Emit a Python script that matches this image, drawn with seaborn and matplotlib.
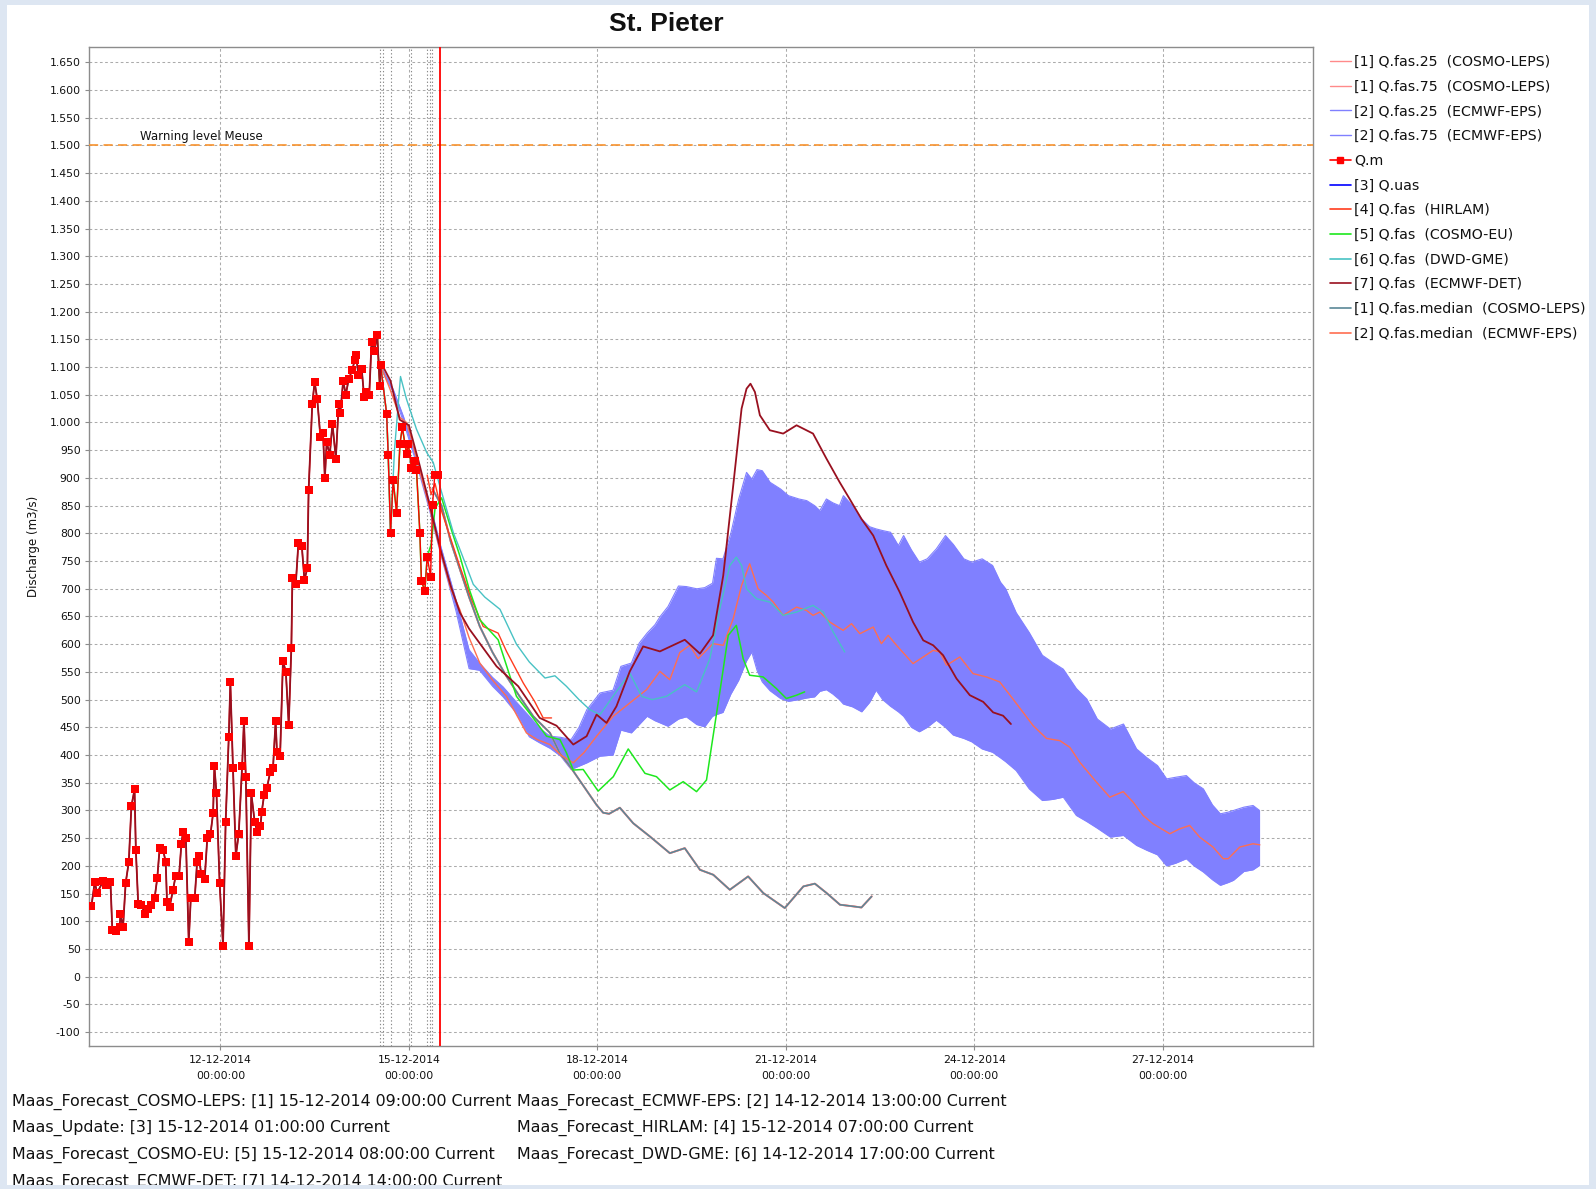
import numpy as np
import pandas as pd
import matplotlib
matplotlib.use("Agg")
import matplotlib.pyplot as plt
import matplotlib.dates as mdates
from matplotlib.lines import Line2D
from matplotlib.patches import Rectangle
import seaborn as sns

sns.set_theme(style="white")
plt.rcParams["font.family"] = ["DejaVu Sans"]

# all times are hours since 12-12-2014 00:00
BASE = pd.Timestamp("2014-12-12 00:00")

# =========================
# Observed discharge Q.m
# =========================
obs_h = [-49.3, -48.0, -47.1, -44.8, -43.8, -42.0, -41.3, -40.0, -38.5, -38.2,
         -37.2, -36.2, -35.0, -34.0, -32.8, -32.3, -31.4, -30.2, -28.9, -27.6,
         -26.4, -25.1, -24.1, -23.2, -21.9, -20.9, -20.4, -19.4, -18.1, -17.1,
         -15.8, -14.9, -14.3, -13.2, -12.1, -11.3, -9.8, -8.9, -8.3, -7.3,
         -6.0, -5.0, -3.8, -2.8, -2.3, -1.5, -0.3, 1.0, 2.0, 3.2,
         3.8, 4.8, 5.9, 7.0, 8.3, 9.0, 9.7, 10.9, 11.8, 13.1,
         14.1, 15.3, 15.8, 16.7, 17.8, 19.0, 20.1, 21.1, 21.6, 22.8,
         23.9, 25.0, 26.1, 27.1,
         27.5, 28.8, 29.8, 31.1, 32.1, 33.2, 33.7, 35.1, 36.0, 37.0,
         38.2, 39.2, 39.9, 40.6, 41.8, 42.8, 44.1, 45.2, 45.8, 46.9,
         47.9, 49.0, 50.3, 51.3, 51.8, 52.7, 54.0, 54.9, 55.8,
         56.85, 57.75, 58.8, 59.9, 60.9, 61.2, 63.5, 64.1, 65.0, 66.0,
         67.3, 68.6, 69.5, 70.5, 71.1, 71.8, 73.0, 74.3, 74.9, 76.2,
         76.8, 78.1, 79.0, 80.3, 81.05, 81.9, 83.2]
obs_v = [127, 171, 151, 173, 165, 171, 85, 82, 89, 113,
         89, 169, 207, 308, 338, 228, 131, 130, 114, 123,
         129, 143, 179, 233, 229, 207, 135, 126, 157, 182,
         182, 240, 261, 251, 63, 143, 143, 207, 217, 185,
         177, 251, 257, 295, 380, 331, 169, 56, 279, 433,
         531, 377, 218, 258, 380, 462, 361, 55, 331, 279,
         262, 272, 298, 328, 341, 369, 377, 462, 406, 398,
         570, 550, 455, 593,
         719, 709, 783, 777, 716, 737, 878, 1034, 1073, 1042,
         974, 981, 899, 964, 942, 998, 935, 1034, 1017, 1075,
         1050, 1078, 1094, 1112, 1122, 1086, 1096, 1046, 1055,
         1049, 1145, 1129, 1158, 1066, 1103, 1016, 942, 801, 896,
         837, 962, 991, 961, 944, 961, 918, 930, 915, 801,
         714, 696, 758, 722, 852, 906, 906]

# =========================
# Forecasts
# =========================
# [7] ECMWF-DET
ecdet_h = [62, 65, 68.5, 72, 76, 80, 84, 88, 91.5, 95,
           99, 105.5, 113.8, 122, 128.4, 134.8, 139.9, 143.7, 147.5, 151.3,
           156.4, 161.5, 167.9, 177.4, 183.2, 188.2, 192.1, 195.9, 199.1, 201,
           202.5, 204.2, 206.1, 209.9, 215, 220.1, 226.4, 231.5, 236.6, 240.4,
           244.9, 249.4, 254.4, 259.5, 264.6, 268.5, 272.3, 276.1, 281.2, 286.3,
           291.4, 295.2, 299, 302]
ecdet_v = [1102, 1075, 1005, 995, 925, 850, 772, 705, 657, 628,
           602, 560, 524, 467, 453, 419, 434, 473, 458, 488,
           551, 596, 587, 608, 583, 616, 724, 886, 1025, 1061,
           1070, 1055, 1013, 986, 980, 995, 980, 935, 892, 862,
           826, 796, 742, 694, 640, 607, 598, 580, 538, 508,
           496, 477, 471, 456]

# [2] ECMWF-EPS median
eceps_h = [61, 64.8, 68.6, 71.1, 73, 76, 80, 84, 88, 91.5,
           95, 99.1, 104, 109.3, 116.9, 121, 125.9, 130, 134.8, 139,
           143.7, 150.05, 156.4, 162.8, 167.9, 171.7, 175.5, 179.3, 182.5, 188.2,
           192.1, 195.9, 199.1, 202.2, 205.4, 208.6, 211.2, 215.0, 220.1, 223.9,
           226.4, 229.0, 232.8, 237.9, 241.1, 244.3, 249.4, 252.5, 255.1, 258.3,
           264.6, 268.5, 272.3, 274.8, 277.4, 282.5, 287.5, 292.6, 297.7, 302.8,
           310.5, 315.6, 320.7, 324.5, 328.3, 334.7, 339.8, 344.9, 348.7, 352.5,
           356.3, 362.7, 366.5, 370.3, 374.1, 379.2, 383.1, 385.0, 389.4, 394.5,
           397.1]
eceps_med = [1105, 1060, 1009, 1000, 970, 915, 845, 768, 700, 662,
             612, 566, 535, 506, 440, 428, 419, 400, 386, 405,
             434, 470, 494, 518, 551, 536, 585, 598, 574, 601,
             598, 646, 706, 745, 700, 688, 676, 652, 667, 661,
             652, 658, 640, 625, 637, 619, 631, 601, 616, 598,
             565, 577, 589, 586, 562, 577, 547, 541, 532, 501,
             453, 430, 426, 414, 387, 351, 324, 334, 315, 291,
             276, 258, 267, 273, 252, 234, 213, 213, 234, 240,
             238]

# [2] ECMWF-EPS 25% / 75%
band_h = [61, 66, 70, 75, 80, 84, 90, 95, 99, 104,
          108, 113, 118, 122, 126, 130, 134, 137, 140, 145,
          150, 153, 157, 160, 163, 166, 168, 171, 175, 178,
          182, 185, 188, 189.5, 192, 195, 198, 201, 203, 205,
          207, 210, 214, 217, 221, 224, 227, 229, 231.5, 234,
          236.5, 238, 241.5, 245, 248, 250.5, 253, 256, 259, 261,
          264, 267, 270, 273.5, 277, 280, 284, 287, 291, 295,
          298, 300, 304, 309, 314, 318, 322, 327, 331, 335,
          340, 345, 350, 354, 358, 361.5, 365, 369, 372, 375.5,
          379, 382, 385, 387, 391, 394.5, 397]
eceps_q75 = [1105, 1060, 1010, 935, 855, 780, 680, 590, 566, 540,
             523, 496, 470, 448, 434, 432, 428, 450, 482, 512,
             517, 560, 566, 602, 620, 635, 650, 668, 705, 704,
             700, 702, 710, 755, 754, 800, 862, 910, 898, 915,
             913, 892, 880, 868, 862, 859, 850, 841, 862, 855,
             850, 868, 850, 826, 812, 808, 805, 802, 778, 796,
             770, 748, 754, 772, 796, 780, 754, 748, 754, 742,
             712, 700, 657, 621, 580, 567, 555, 520, 501, 465,
             447, 456, 411, 395, 381, 357, 360, 363, 350, 339,
             310, 294, 297, 300, 306, 309, 300]
eceps_q25 = [1100, 1055, 1000, 925, 840, 765, 660, 556, 553, 524,
             505, 476, 433, 422, 412, 398, 374, 380, 386, 398,
             400, 445, 440, 455, 470, 462, 458, 452, 465, 469,
             455, 451, 470, 473, 477, 510, 535, 570, 586, 553,
             532, 516, 502, 497, 500, 503, 505, 515, 518, 510,
             500, 492, 487, 478, 495, 517, 500, 488, 478, 470,
             450, 442, 450, 463, 450, 436, 430, 424, 411, 405,
             395, 388, 372, 339, 318, 320, 324, 291, 280, 268,
             252, 255, 237, 228, 220, 200, 205, 213, 200, 189,
             175, 165, 170, 174, 190, 193, 201]

# [1] COSMO-LEPS (25%, 75% and median read as coinciding)
cleps_h = [81, 84.5, 88, 91.5, 95, 99.1, 104, 109.3, 114, 119.5,
           125.9, 129.7, 133.5, 138.6, 143.7, 146.2, 148.5, 152.6, 157.7, 164.1,
           171.7, 177.4, 183.2, 188.3, 194.6, 201.6, 207.4, 215.6, 222.7, 227.1,
           231.6, 236.7, 241.8, 244.9, 248.8]
cleps_med = [880, 850, 785, 735, 685, 632, 585, 542, 508, 470,
             440, 403, 380, 345, 310, 296, 294, 305, 277, 253,
             223, 232, 193, 184, 157, 181, 151, 124, 163, 168,
             151, 130, 127, 125, 145]
cleps_q25 = cleps_med
cleps_q75 = cleps_med

# [4] HIRLAM
hirlam_h = [79, 80.5, 82, 84.5, 88, 91.5, 96, 100.4, 106.1, 109.3, 115.7, 120, 123.3, 126.5]
hirlam_v = [905, 870, 890, 840, 790, 740, 680, 632, 620, 587, 530, 497, 467, 467]

# [5] COSMO-EU
ceu_h = [80.5, 82, 84.5, 88, 91.5, 95, 99.1, 106.1, 113.1, 119,
         124.6, 129.7, 132.2, 134.8, 138.6, 144.3, 150.1, 155.8, 162.2, 166.6,
         171.7, 176.8, 181.9, 185.7, 187.6, 190.8, 194.0, 197.1, 199.7, 202.2,
         207.3, 212.4, 216.2, 220.1, 223.2]
ceu_v = [780, 845, 864, 810, 759, 700, 644, 608, 506, 470,
         434, 428, 404, 373, 374, 335, 361, 411, 367, 361,
         337, 352, 334, 355, 415, 514, 616, 634, 574, 544,
         541, 520, 502, 508, 514]

# [6] DWD-GME
gme_h = [66.5, 68.8, 71.1, 74.9, 78.8, 81.3, 83.85, 86, 89, 92,
         96.6, 101, 106.8, 113.1, 118, 124, 127.8, 132.2, 137, 141.1,
         145, 150, 156.4, 160.9, 165, 170.4, 177.4, 181.9, 187, 190.8,
         194.6, 197.1, 199.1, 201, 204.8, 209.9, 215, 220.1, 226.4, 230.3,
         234.1, 238.5]
gme_v = [950, 1083, 1042, 988, 946, 928, 885, 850, 801, 765,
         708, 685, 663, 600, 568, 539, 543, 524, 500, 482,
         473, 506, 548, 506, 500, 506, 527, 514, 574, 664,
         742, 757, 742, 700, 682, 676, 652, 658, 670, 658,
         622, 586]

# forecast runs: (workflow, index, T0 label, T0 hours)
runs = [("Maas_Forecast_COSMO-LEPS", 1, "15-12-2014 09:00:00", 81),
        ("Maas_Forecast_ECMWF-EPS", 2, "14-12-2014 13:00:00", 61),
        ("Maas_Update", 3, "15-12-2014 01:00:00", 73),
        ("Maas_Forecast_HIRLAM", 4, "15-12-2014 07:00:00", 79),
        ("Maas_Forecast_COSMO-EU", 5, "15-12-2014 08:00:00", 80),
        ("Maas_Forecast_DWD-GME", 6, "14-12-2014 17:00:00", 65),
        ("Maas_Forecast_ECMWF-DET", 7, "14-12-2014 14:00:00", 62)]
system_time_h = 84
warning_level = 1500

y_ticks = list(range(-100, 1651, 50))
x_tick_h = [0, 72, 144, 216, 288, 360]


def to_time(hours):
    return BASE + pd.to_timedelta(np.asarray(hours, dtype=float), unit="h")


def to_num(hours):
    return mdates.date2num(to_time(np.atleast_1d(hours)).to_pydatetime())


obs_t = np.array(obs_h)
obs_y = np.array(obs_v)


def with_history(start, end, fh, fv):
    # forecast runs carry the observed state over their historic period
    m = (obs_t >= start) & (obs_t <= end)
    return np.r_[obs_t[m], fh], np.r_[obs_y[m], fv]


C_CLEPS_Q = "#ff8a8a"
C_EPS_Q = "#8080ff"
C_QM = "#ff0000"
C_UAS = "#0000ff"
C_HIRLAM = "#ff3c1e"
C_CEU = "#1ee81e"
C_GME = "#48c2c4"
C_ECDET = "#99101f"
C_CLEPS_MED = "#5a8797"
C_EPS_MED = "#ff6e50"

# =========================
# Figure
# =========================
W, H = 1596, 1189
fig = plt.figure(figsize=(W / 100, H / 100), dpi=100)
fig.patch.set_facecolor("white")
ax = fig.add_axes([89 / W, 1 - 1045.5 / H, (1313 - 89) / W, (1045.5 - 46.7) / H])

ax.fill_between(to_time(band_h), eceps_q25, eceps_q75, color=C_EPS_Q, lw=0, zorder=2)
sns.lineplot(x=to_time(band_h), y=eceps_q25, ax=ax, color=C_EPS_Q, lw=0.8, estimator=None, zorder=2)
sns.lineplot(x=to_time(band_h), y=eceps_q75, ax=ax, color=C_EPS_Q, lw=0.8, estimator=None, zorder=2)

sns.lineplot(x=to_time(cleps_h), y=cleps_q25, ax=ax, color=C_CLEPS_Q, lw=1.35, estimator=None, zorder=3)
sns.lineplot(x=to_time(cleps_h), y=cleps_q75, ax=ax, color=C_CLEPS_Q, lw=1.35, estimator=None, zorder=3)
sns.lineplot(x=to_time(cleps_h), y=cleps_med, ax=ax, color=C_CLEPS_MED, lw=1.15, estimator=None, zorder=3)
sns.lineplot(x=to_time(eceps_h), y=eceps_med, ax=ax, color=C_EPS_MED, lw=1.0, estimator=None, zorder=3)
sns.lineplot(x=to_time(hirlam_h), y=hirlam_v, ax=ax, color=C_HIRLAM, lw=1.0, estimator=None, zorder=3)

h, v = with_history(57.5, 80, ceu_h, ceu_v)
sns.lineplot(x=to_time(h), y=v, ax=ax, color=C_CEU, lw=1.1, estimator=None, zorder=3)
h, v = with_history(60.5, 65, gme_h, gme_v)
sns.lineplot(x=to_time(h), y=v, ax=ax, color=C_GME, lw=1.0, estimator=None, zorder=3)

sns.lineplot(x=to_time(obs_h), y=obs_v, ax=ax, color=C_QM, lw=1.0, estimator=None, zorder=4)
h, v = with_history(-100, 62, ecdet_h, ecdet_v)
sns.lineplot(x=to_time(h), y=v, ax=ax, color=C_ECDET, lw=1.3, estimator=None, zorder=5)
sns.scatterplot(x=to_time(obs_h), y=obs_v, ax=ax, color=C_QM, marker="s", s=38,
                linewidth=0, zorder=6)

# warning level
ax.axhline(warning_level, color="#f7922e", lw=1.2, ls=(0, (5.5, 3.2)), zorder=3)
ax.text(to_num(-30.9)[0], warning_level + 4, "Warning level Meuse", fontsize=8.5,
        color="#111111", va="bottom", ha="left", zorder=7)

# forecast times and system time
for name, idx, lbl, t0 in runs:
    ax.axvline(to_num(t0)[0], color="#8a8a8a", lw=0.8, ls=(0, (1.2, 2.0)), zorder=1)
ax.axvline(to_num(system_time_h)[0], color="#ff0000", lw=1.3, zorder=7)

# axes
ax.set_xlim(to_num(-50.2)[0], to_num(417.4)[0])
ax.set_ylim(-124, 1678)
ax.set_yticks(y_ticks)
ax.set_yticklabels([f"{t:,}".replace(",", ".") for t in y_ticks])
xt = to_time(x_tick_h)
ax.set_xticks(to_num(x_tick_h))
ax.set_xticklabels([t.strftime("%d-%m-%Y\n%H:%M:%S") for t in xt])
for lbl in ax.get_xticklabels():
    lbl.set_linespacing(1.75)
ax.tick_params(axis="both", labelsize=7.8, length=3, width=0.8, color="#8c8c8c",
               bottom=True, left=True, direction="out", pad=3, labelcolor="#111111")
ax.tick_params(axis="x", pad=4)
ax.set_xlabel("")
ax.set_ylabel("Discharge (m3/s)", fontsize=8.5, color="#111111", labelpad=7)
ax.grid(True, color="#ababab", lw=0.75, ls=(0, (2.6, 2.4)))
ax.set_axisbelow(True)
for s in ax.spines.values():
    s.set_color("#8c8c8c")
    s.set_linewidth(1.0)

# title
fig.text(666 / W, 1 - 24 / H, "St. Pieter", ha="center", va="center",
         fontsize=19, fontweight="bold", family="Liberation Sans", color="#111111")

# legend
handles = [Line2D([], [], color=C_CLEPS_Q, lw=1),
           Line2D([], [], color=C_CLEPS_Q, lw=1),
           Line2D([], [], color=C_EPS_Q, lw=1),
           Line2D([], [], color=C_EPS_Q, lw=1),
           Line2D([], [], color=C_QM, lw=1.2, marker="s", ms=5),
           Line2D([], [], color=C_UAS, lw=1.2),
           Line2D([], [], color=C_HIRLAM, lw=1.2),
           Line2D([], [], color=C_CEU, lw=1.2),
           Line2D([], [], color=C_GME, lw=1.2),
           Line2D([], [], color=C_ECDET, lw=1.2),
           Line2D([], [], color=C_CLEPS_MED, lw=1.2),
           Line2D([], [], color=C_EPS_MED, lw=1.2)]
labels = ["[1] Q.fas.25  (COSMO-LEPS)", "[1] Q.fas.75  (COSMO-LEPS)",
          "[2] Q.fas.25  (ECMWF-EPS)", "[2] Q.fas.75  (ECMWF-EPS)",
          "Q.m", "[3] Q.uas", "[4] Q.fas  (HIRLAM)", "[5] Q.fas  (COSMO-EU)",
          "[6] Q.fas  (DWD-GME)", "[7] Q.fas  (ECMWF-DET)",
          "[1] Q.fas.median  (COSMO-LEPS)", "[2] Q.fas.median  (ECMWF-EPS)"]
leg = fig.legend(handles, labels, loc="upper left", bbox_to_anchor=(1330 / W, 1 - 55 / H),
                 frameon=False, fontsize=10.2, handlelength=1.45, handletextpad=0.25,
                 labelspacing=0.755, borderaxespad=0, borderpad=0)
for t in leg.get_texts():
    t.set_color("#111111")

# footer with forecast run info, two columns
col_x = [12 / W, 517 / W]
row_y = [1105.5, 1132, 1159, 1185.5]
for i, (name, idx, lbl, t0) in enumerate(runs):
    fig.text(col_x[i % 2], 1 - row_y[i // 2] / H, f"{name}: [{idx}] {lbl} Current",
             fontsize=11.4, va="baseline", ha="left", color="#111111")

# light blue frame around the panel
frame = "#dde6f2"
for x0, y0, w, h_ in [(0, 0, 7, H), (W - 7, 0, 7, H), (0, H - 5, W, 5), (0, 0, W, 4)]:
    fig.add_artist(Rectangle((x0 / W, y0 / H), w / W, h_ / H, transform=fig.transFigure,
                             color=frame, lw=0, zorder=100))

fig.savefig("out.png", dpi=100, facecolor=fig.get_facecolor())
